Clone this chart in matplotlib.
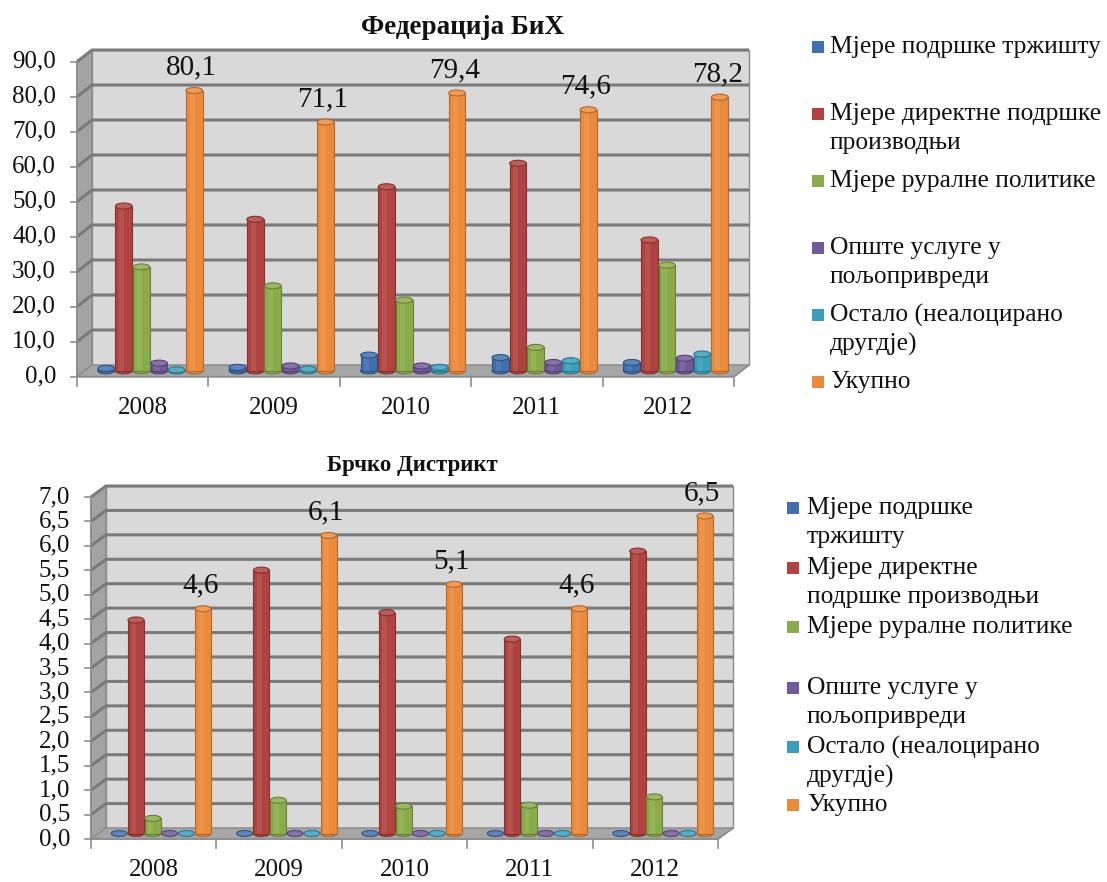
import numpy as np
import matplotlib
matplotlib.use("Agg")
import matplotlib.pyplot as plt
from matplotlib.patches import Ellipse, Polygon, Rectangle

plt.rcParams['font.family'] = ['Liberation Serif', 'DejaVu Serif']

# data
years = ['2008', '2009', '2010', '2011', '2012']
series = ['Мјере подршке тржишту', 'Мјере директне подршке производњи', 'Мјере руралне политике',
          'Опште услуге у пољопривреди', 'Остало (неалоцирано другдје)', 'Укупно']
colors = ['#3f6fad', '#b0433f', '#8aab4a', '#71599a', '#3a9fba', '#eb8a3b']

fbih_market = [0.7, 1.0, 4.5, 3.8, 2.4]
fbih_direct = [47.1, 43.3, 52.6, 59.3, 37.4]
fbih_rural = [29.7, 24.3, 20.2, 6.7, 30.2]
fbih_general = [2.2, 1.4, 1.4, 2.4, 3.6]
fbih_other = [0.3, 0.5, 1.0, 2.9, 4.8]
fbih_total = [80.1, 71.1, 79.4, 74.6, 78.2]

brcko_market = [0.0, 0.0, 0.0, 0.0, 0.0]
brcko_direct = [4.37, 5.39, 4.52, 3.98, 5.78]
brcko_rural = [0.31, 0.68, 0.56, 0.58, 0.75]
brcko_general = [0.0, 0.0, 0.0, 0.0, 0.0]
brcko_other = [0.0, 0.0, 0.0, 0.0, 0.0]
brcko_total = [4.6, 6.1, 5.1, 4.6, 6.5]

legend_top = ['Мјере подршке тржишту', 'Мјере директне подршке\nпроизводњи', 'Мјере руралне политике',
              'Опште услуге у\nпољопривреди', 'Остало (неалоцирано\nдругдје)', 'Укупно']
legend_bot = ['Мјере подршке\nтржишту', 'Мјере директне\nподршке производњи', 'Мјере руралне политике',
              'Опште услуге у\nпољопривреди', 'Остало (неалоцирано\nдругдје)', 'Укупно']

W, H = 1107, 882
fig = plt.figure(figsize=(W / 100, H / 100), dpi=100)


def shade(c, f):
    c = np.array(matplotlib.colors.to_rgb(c))
    if f < 1:
        return tuple(c * f)
    return tuple(c + (1 - c) * (f - 1))


def panel(box, data, ymax, step, title, title_xy, title_size, depth_px):
    left, right, top, bottom = box
    ax = fig.add_axes([left / W, 1 - bottom / H, (right - left) / W, (bottom - top) / H])
    ax.set_xlim(-0.5, 4.5)
    ax.set_ylim(0, ymax)
    ax.axis('off')
    px_x = (right - left) / 5.0
    px_y = (bottom - top) / ymax
    dx = depth_px[0] / px_x
    dy = depth_px[1] / px_y

    # walls and floor
    ax.add_patch(Rectangle((-0.5 + dx, dy), 5, ymax, fc='#d9d9d9', ec='#8c8c8c', lw=1, clip_on=False, zorder=0))
    ax.add_patch(Polygon([(-0.5, 0), (-0.5 + dx, dy), (-0.5 + dx, ymax + dy), (-0.5, ymax)],
                         fc='#a3a3a3', ec='#8c8c8c', lw=1, clip_on=False, zorder=0))
    ax.add_patch(Polygon([(-0.5, 0), (4.5, 0), (4.5 + dx, dy), (-0.5 + dx, dy)],
                         fc='#a6a6a6', ec='#8c8c8c', lw=1, clip_on=False, zorder=0.5))
    ticks = np.arange(0, ymax + step / 2, step)
    for v in ticks[1:]:
        ax.plot([-0.5, -0.5 + dx, 4.5 + dx], [v, v + dy, v + dy], color='#7a7a7a', lw=2.2,
                clip_on=False, zorder=0.3, solid_capstyle='butt')
    # axes lines and ticks
    ax.plot([-0.5, -0.5], [0, ymax], color='#8c8c8c', lw=1.2, clip_on=False)
    for v in ticks:
        ax.plot([-0.5 - 6 / px_x, -0.5], [v, v], color='#8c8c8c', lw=1.2, clip_on=False)
        ax.text(-0.5 - 21 / px_x, v, '{:.1f}'.format(v).replace('.', ','), ha='right', va='center',
                fontsize=18, color='#111111')
    ax.plot([-0.5, 4.5, 4.5 + dx], [0, 0, dy], color='#8c8c8c', lw=1.2, clip_on=False, zorder=0.6)
    for i in range(6):
        ax.plot([i - 0.5, i - 0.5], [0, -9 / px_y], color='#8c8c8c', lw=1.2, clip_on=False)
    for i, yr in enumerate(years):
        ax.text(i, -31 / px_y, yr, ha='center', va='center', fontsize=18, color='#111111')

    # cylinders
    spacing = 0.134
    width = spacing * 0.95
    cap = 6 / px_y
    offsets = (np.arange(6) - 2.5) * spacing + dx / 2
    base = dy / 2
    for s, vals in enumerate(data):
        c = colors[s]
        for i, v in enumerate(vals):
            xc = i + offsets[s]
            z = 2 + s * 0.01
            if v > 0:
                ax.bar(xc, v, width=width, bottom=base, color=c, edgecolor=shade(c, 0.75), lw=0.8, zorder=z)
                ax.bar(xc - width * 0.12, v, width=width * 0.3, bottom=base, color=shade(c, 1.25),
                       lw=0, alpha=0.35, zorder=z + 0.001)
                ax.add_patch(Ellipse((xc, base), width, cap, fc=c, ec=shade(c, 0.75), lw=0.8, zorder=z - 0.002))
            ax.add_patch(Ellipse((xc, base + v), width, cap, fc=shade(c, 1.15), ec=shade(c, 0.75),
                                 lw=0.8, zorder=z + 0.002))
    # labels on totals
    for i, v in enumerate(data[5]):
        ax.text(i + offsets[5] - 0.02, base + v + 23 / px_y, '{:.1f}'.format(v).replace('.', ','),
                ha='center', va='center', fontsize=21, color='#111111', zorder=5)
    fig.text(title_xy[0] / W, 1 - title_xy[1] / H, title, ha='center', va='center',
             fontsize=title_size, fontweight='bold', color='#111111')


def legend(labels, sq_x, txt_x, ys, size):
    for s, lab in enumerate(labels):
        y0 = ys[s]
        fig.patches.append(Rectangle((sq_x / W, 1 - (y0 + size / 2) / H), size / W, size / H,
                                     fc=colors[s], ec='none', transform=fig.transFigure, figure=fig))
        for k, line in enumerate(lab.split('\n')):
            fig.text(txt_x / W, 1 - (y0 + k * 29) / H, line, ha='left', va='center',
                     fontsize=18.4, color='#111111')


panel((77, 734, 61.7, 376.7),
      [fbih_market, fbih_direct, fbih_rural, fbih_general, fbih_other, fbih_total],
      90, 10, 'Федерација БиХ', (463, 27), 19.5, (15, 11.7))
panel((91, 718, 497, 839),
      [brcko_market, brcko_direct, brcko_rural, brcko_general, brcko_other, brcko_total],
      7, 0.5, 'Брчко Дистрикт', (412, 466), 16.5, (15, 11))

legend(legend_top, 812, 830, [47, 114, 181, 248, 315, 382], 12)
legend(legend_bot, 787, 807, [508, 568, 627, 688, 747, 805], 12)

fig.savefig('out.png', dpi=100, facecolor='white')
